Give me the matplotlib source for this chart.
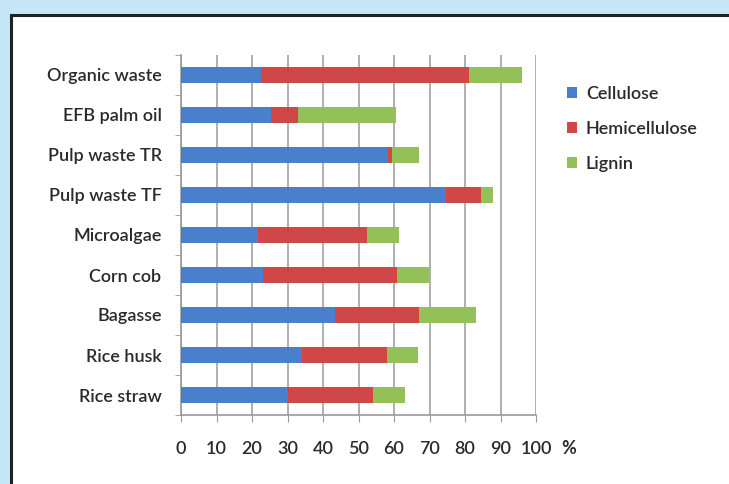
import numpy as np
import matplotlib
matplotlib.use('Agg')
import matplotlib.pyplot as plt
from matplotlib.patches import Rectangle

# data (percent of dry weight)
materials = ['Organic waste', 'EFB palm oil', 'Pulp waste TR', 'Pulp waste TF',
             'Microalgae', 'Corn cob', 'Bagasse', 'Rice husk', 'Rice straw']
cellulose = [22.5, 25.3, 58.2, 74.6, 21.8, 23.2, 43.5, 34.0, 30.2]
hemicellulose = [58.7, 7.7, 1.1, 9.9, 30.7, 37.6, 23.5, 24.0, 24.0]
lignin = [14.8, 27.5, 7.8, 3.5, 9.0, 9.1, 16.0, 8.7, 9.0]
xticks = [0, 10, 20, 30, 40, 50, 60, 70, 80, 90, 100]

plt.rcParams['font.family'] = ['Lato', 'DejaVu Sans']
plt.rcParams['font.weight'] = 'semibold'

W, H = 729, 484
fig = plt.figure(figsize=(W / 100, H / 100), dpi=100)
fig.patch.set_facecolor('#c6e7f7')

# white panel with dark border
fig.add_artist(Rectangle((11.5 / W, -0.1), 1.2, 1.1 - 15.5 / H,
                         transform=fig.transFigure, facecolor='white',
                         edgecolor='#222222', linewidth=2.2, zorder=0))

ax = fig.add_axes([181 / W, 1 - 415 / H, (536 - 181) / W, (415 - 55) / H])
ax.set_facecolor('white')

y = np.arange(len(materials))
cel = np.array(cellulose)
hem = np.array(hemicellulose)
lig = np.array(lignin)
bh = 0.4
ax.barh(y, cel, height=bh, color='#4a7fcc', label='Cellulose', zorder=3)
ax.barh(y, hem, left=cel, height=bh, color='#cf4847', label='Hemicellulose', zorder=3)
ax.barh(y, lig, left=cel + hem, height=bh, color='#94c05a', label='Lignin', zorder=3)

fs = 13
tc = '#2a2a2a'
ax.set_xlim(0, 100)
ax.set_ylim(len(materials) - 0.5, -0.5)
ax.set_xticks(xticks)
ax.set_xticklabels([str(v) for v in xticks], fontsize=fs, color=tc)
ax.set_yticks(y)
ax.set_yticklabels(materials, fontsize=fs, color=tc)
ax.set_yticks(np.arange(len(materials) + 1) - 0.5, minor=True)

ax.tick_params(axis='y', which='major', length=0, pad=14)
ax.tick_params(axis='y', which='minor', length=4, color='#999999', direction='out')
ax.tick_params(axis='x', which='major', length=5, color='#999999', direction='out', pad=14)

ax.grid(axis='x', color='#a8a8a8', linewidth=1.3, zorder=0)
for s in ['top', 'right']:
    ax.spines[s].set_visible(False)
for s in ['left', 'bottom']:
    ax.spines[s].set_color('#999999')
    ax.spines[s].set_linewidth(1.2)

ax.annotate('%', xy=(1, 0), xycoords='axes fraction', xytext=(23.5, -24),
            textcoords='offset points', ha='center', va='center',
            fontsize=fs, fontweight='bold', color=tc)

leg = ax.legend(loc='upper left', bbox_to_anchor=(558 / W, 1 - 77 / H),
                bbox_transform=fig.transFigure, frameon=False, fontsize=fs,
                handlelength=0.55, handleheight=0.55, handletextpad=0.5,
                labelspacing=1.05, borderpad=0)
for t in leg.get_texts():
    t.set_color(tc)

fig.savefig('out.png', dpi=100, facecolor=fig.get_facecolor())
